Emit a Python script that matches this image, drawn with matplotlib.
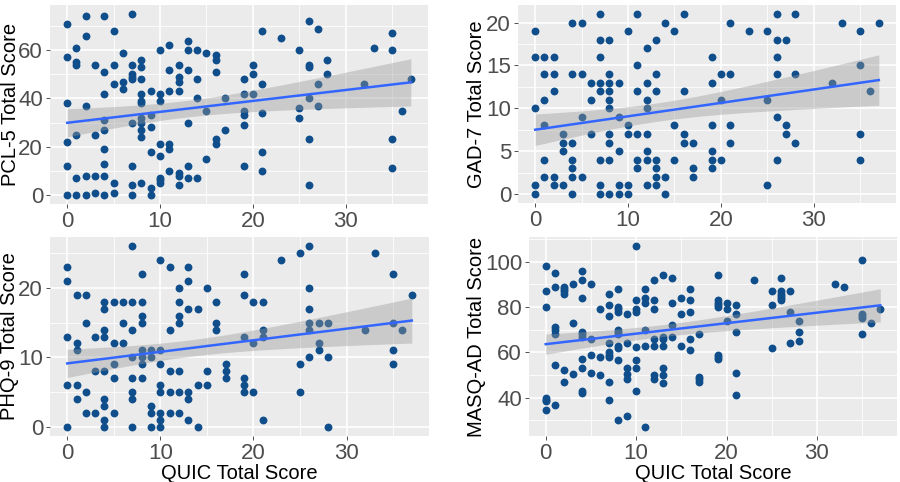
import numpy as np
import matplotlib
matplotlib.use('Agg')
import matplotlib.pyplot as plt
from matplotlib.ticker import MultipleLocator

# points: (QUIC total, scale total)
pcl5_points = [
    (0, 71), (0, 57), (0, 38), (0, 22), (0, 12), (0, 0),
    (1, 61), (1, 55), (1, 54), (1, 25), (1, 7), (1, 0),
    (2, 74), (2, 66), (2, 37), (2, 8), (2, 0),
    (3, 54), (3, 25), (3, 8), (3, 1),
    (4, 74), (4, 51), (4, 42), (4, 31), (4, 27), (4, 19), (4, 13), (4, 8), (4, 0),
    (5, 68), (5, 54), (5, 46), (5, 5), (5, 1),
    (6, 59), (6, 47), (6, 44),
    (7, 75), (7, 54), (7, 50), (7, 49), (7, 48), (7, 30), (7, 12), (7, 4), (7, 0),
    (8, 56), (8, 53), (8, 48), (8, 42), (8, 39), (8, 38), (8, 32), (8, 30), (8, 27), (8, 24), (8, 5),
    (9, 43), (9, 33), (9, 28), (9, 18), (9, 3), (9, 0),
    (10, 60), (10, 42), (10, 39), (10, 21), (10, 16), (10, 7), (10, 6), (10, 5),
    (11, 62), (11, 52), (11, 43), (11, 21), (11, 19), (11, 10),
    (12, 54), (12, 49), (12, 47), (12, 43), (12, 9), (12, 8), (12, 4),
    (13, 64), (13, 60), (13, 52), (13, 30), (13, 12), (13, 7),
    (14, 60), (14, 48), (14, 40), (14, 7),
    (15, 59), (15, 35), (15, 15),
    (16, 58), (16, 56), (16, 51), (16, 23), (16, 21),
    (17, 40), (17, 27),
    (19, 48), (19, 42), (19, 35), (19, 33), (19, 29), (19, 12),
    (20, 54), (20, 50), (20, 42),
    (21, 68), (21, 46), (21, 34), (21, 18), (21, 10),
    (23, 65),
    (25, 60), (25, 36), (25, 32),
    (26, 72), (26, 54), (26, 53), (26, 40), (26, 23), (26, 4),
    (27, 69), (27, 46), (27, 37),
    (28, 56), (28, 50),
    (32, 46), (33, 61),
    (35, 67), (35, 60), (35, 23), (35, 11),
    (36, 35), (37, 48),
]

gad7_points = [
    (0, 19), (0, 16), (0, 10), (0, 1), (0, 0),
    (1, 16), (1, 14), (1, 11), (1, 8), (1, 4), (1, 2),
    (2, 16), (2, 14), (2, 12), (2, 2), (2, 1),
    (3, 7), (3, 6), (3, 5), (3, 1),
    (4, 20), (4, 14), (4, 6), (4, 4), (4, 3), (4, 2), (4, 0),
    (5, 20), (5, 14), (5, 9), (5, 2),
    (6, 13), (6, 11), (6, 7),
    (7, 21), (7, 18), (7, 16), (7, 13), (7, 12), (7, 4), (7, 1), (7, 0),
    (8, 18), (8, 14), (8, 13), (8, 12), (8, 11), (8, 10), (8, 7), (8, 6), (8, 4), (8, 0),
    (9, 13), (9, 9), (9, 5), (9, 1), (9, 0),
    (10, 19), (10, 8), (10, 7), (10, 1), (10, 0),
    (11, 21), (11, 15), (11, 12), (11, 7), (11, 4), (11, 3),
    (12, 17), (12, 13), (12, 11), (12, 10), (12, 7), (12, 5), (12, 4), (12, 1),
    (13, 18), (13, 14), (13, 12), (13, 4), (13, 3), (13, 2), (13, 1),
    (14, 20), (14, 2), (14, 0),
    (15, 19), (15, 8), (15, 4),
    (16, 21), (16, 12), (16, 7), (16, 6),
    (17, 6), (17, 3), (17, 2),
    (19, 16), (19, 13), (19, 8), (19, 5), (19, 4), (19, 3),
    (20, 14), (20, 11), (20, 4),
    (21, 20), (21, 14), (21, 8), (21, 6),
    (23, 19),
    (25, 19), (25, 11), (25, 1),
    (26, 21), (26, 18), (26, 16), (26, 14), (26, 9), (26, 4),
    (27, 18), (27, 8), (27, 7),
    (28, 21), (28, 14), (28, 6),
    (32, 13), (33, 20),
    (35, 19), (35, 15), (35, 7), (35, 4),
    (36, 12), (37, 20),
]

phq9_points = [
    (0, 23), (0, 21), (0, 13), (0, 6), (0, 0),
    (1, 19), (1, 12), (1, 11), (1, 6), (1, 4),
    (2, 19), (2, 15), (2, 5), (2, 2),
    (3, 13), (3, 8), (3, 2),
    (4, 18), (4, 17), (4, 14), (4, 13), (4, 8), (4, 4), (4, 3), (4, 1), (4, 0),
    (5, 18), (5, 12), (5, 9), (5, 7), (5, 2),
    (6, 18), (6, 15), (6, 12),
    (7, 26), (7, 18), (7, 14), (7, 10), (7, 7), (7, 5), (7, 4), (7, 0),
    (8, 22), (8, 18), (8, 16), (8, 15), (8, 11), (8, 10), (8, 9), (8, 7),
    (9, 11), (9, 10), (9, 3), (9, 2), (9, 0),
    (10, 24), (10, 11), (10, 9), (10, 6), (10, 5), (10, 2), (10, 1), (10, 0),
    (11, 23), (11, 14), (11, 8), (11, 5), (11, 2),
    (12, 20), (12, 18), (12, 16), (12, 15), (12, 8), (12, 5), (12, 2),
    (13, 23), (13, 21), (13, 17), (13, 5), (13, 4), (13, 1),
    (14, 17), (14, 6), (14, 0),
    (15, 20), (15, 8), (15, 6),
    (16, 18), (16, 15), (16, 14),
    (17, 9), (17, 8), (17, 7),
    (19, 22), (19, 19), (19, 13), (19, 7), (19, 6), (19, 5),
    (20, 18), (20, 12), (20, 5),
    (21, 18), (21, 14), (21, 13), (21, 1),
    (23, 24),
    (25, 25), (25, 9), (25, 5),
    (26, 26), (26, 20), (26, 17), (26, 15), (26, 14), (26, 10),
    (27, 15), (27, 12), (27, 11),
    (28, 15), (28, 10), (28, 0),
    (32, 14), (33, 25),
    (35, 22), (35, 15), (35, 11), (35, 9),
    (36, 14), (37, 19),
]

masq_points = [
    (0, 98), (0, 87), (0, 80), (0, 40), (0, 39), (0, 38.5), (0, 34.5),
    (1, 95), (1, 89), (1, 71), (1, 70), (1, 68), (1, 54.5), (1, 36.5),
    (2, 89), (2, 88), (2, 87), (2, 86), (2, 52), (2, 47),
    (3, 90), (3, 73), (3, 50.5),
    (4, 96), (4, 92), (4, 84), (4, 69), (4, 68), (4, 67), (4, 57), (4, 53), (4, 43), (4, 42),
    (5, 90), (5, 66), (5, 59), (5, 51),
    (6, 79), (6, 58), (6, 50),
    (7, 86), (7, 81), (7, 76), (7, 64), (7, 60), (7, 59), (7, 58), (7, 47), (7, 39),
    (8, 88), (8, 80), (8, 79), (8, 78), (8, 70), (8, 69), (8, 68), (8, 63), (8, 62), (8, 56.5), (8, 30),
    (9, 77), (9, 64), (9, 53), (9, 50.5), (9, 48), (9, 32),
    (10, 107), (10, 83), (10, 79), (10, 78), (10, 62.5), (10, 56.5), (10, 53), (10, 43),
    (11, 88), (11, 84), (11, 82), (11, 70), (11, 63), (11, 27),
    (12, 92), (12, 83), (12, 79), (12, 66), (12, 63), (12, 50), (12, 48),
    (13, 94), (13, 67), (13, 66), (13, 63), (13, 53), (13, 50), (13, 46.5),
    (14, 93), (14, 82), (14, 72), (14, 67),
    (15, 84), (15, 77), (15, 63),
    (16, 88), (16, 83), (16, 78), (16, 66), (16, 61),
    (17, 68), (17, 49), (17, 48), (17, 47),
    (19, 94), (19, 83), (19, 82), (19, 81), (19, 80), (19, 59), (19, 58), (19, 57),
    (20, 82), (20, 79), (20, 74),
    (21, 81), (21, 77), (21, 69), (21, 51), (21, 41),
    (23, 92),
    (25, 87), (25, 81), (25, 62),
    (26, 93), (26, 87), (26, 86), (26, 85), (26, 84), (26, 83),
    (27, 87), (27, 78), (27, 64),
    (28, 74), (28, 69), (28, 65),
    (32, 90), (33, 89),
    (35, 101), (35, 77), (35, 76), (35, 75), (35, 68),
    (36, 73), (37, 79),
]

panels = [
    (pcl5_points, "PCL-5 Total Score", 20, 10),
    (gad7_points, "GAD-7 Total Score", 5, 2.5),
    (phq9_points, "PHQ-9 Total Score", 10, 5),
    (masq_points, "MASQ-AD Total Score", 20, 10),
]

# axes boxes in pixels: left, top, right, bottom ; label x offset (axes fraction)
boxes = [(50, 5, 428, 204), (518, 5, 896, 203), (50, 237, 429, 436), (529, 237, 897, 436)]
label_x = [-0.08, -0.085, -0.082, -0.118]

W, H = 900, 482
plt.rcParams['font.family'] = ['Liberation Sans', 'DejaVu Sans']
fig = plt.figure(figsize=(W / 100, H / 100), dpi=100)

point_color = "#104E8B"
T_CRIT = 1.976  # t(0.975, df~150)

for i, (pts, ylab, major, minor) in enumerate(panels):
    l, t, r, b = boxes[i]
    ax = fig.add_axes([l / W, 1 - b / H, (r - l) / W, (b - t) / H])
    x = np.array([p[0] for p in pts], dtype=float)
    y = np.array([p[1] for p in pts], dtype=float)

    ax.set_facecolor("#EBEBEB")
    for s in ax.spines.values():
        s.set_visible(False)

    ax.scatter(x, y, s=32, color=point_color, zorder=2, linewidths=0)

    # lm fit with 95% confidence band, like geom_smooth(method = "lm")
    slope, icpt = np.polyfit(x, y, 1)
    n = len(x)
    resid = y - (icpt + slope * x)
    se_res = np.sqrt(np.sum(resid ** 2) / (n - 2))
    xs = np.linspace(x.min(), x.max(), 80)
    fit = icpt + slope * xs
    se_fit = se_res * np.sqrt(1 / n + (xs - x.mean()) ** 2 / np.sum((x - x.mean()) ** 2))
    ax.fill_between(xs, fit - T_CRIT * se_fit, fit + T_CRIT * se_fit,
                    color="#999999", alpha=0.4, linewidth=0, zorder=3)
    ax.plot(xs, fit, color="#3366FF", lw=1.8, zorder=4)

    xr = x.max() - x.min()
    yr = y.max() - y.min()
    ax.set_xlim(x.min() - 0.05 * xr, x.max() + 0.05 * xr)
    ax.set_ylim(y.min() - 0.05 * yr, y.max() + 0.05 * yr)

    ax.xaxis.set_major_locator(MultipleLocator(10))
    ax.xaxis.set_minor_locator(MultipleLocator(5))
    ax.yaxis.set_major_locator(MultipleLocator(major))
    ax.yaxis.set_minor_locator(MultipleLocator(minor))
    ax.grid(which="major", color="white", lw=1.2, zorder=0)
    ax.grid(which="minor", color="white", lw=0.6, zorder=0)
    ax.set_axisbelow(True)

    ax.tick_params(which="major", length=3, width=0.6, color="#333333",
                   labelsize=16, labelcolor="#4D4D4D", pad=2)
    ax.tick_params(which="minor", length=0)

    ax.set_ylabel(ylab, fontsize=14.5, color="black")
    ax.yaxis.set_label_coords(label_x[i], 0.5)
    if i >= 2:
        ax.set_xlabel("QUIC Total Score", fontsize=14.5, color="black", labelpad=0)

fig.savefig("out.png", dpi=100)
